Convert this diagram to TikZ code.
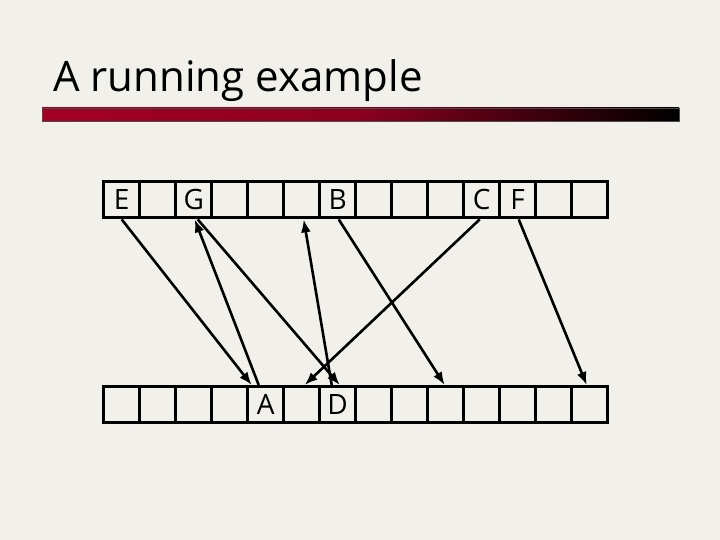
\documentclass[tikz,border=0pt]{standalone}
\usepackage{fontspec}
\setmainfont{Open Sans}
\usetikzlibrary{arrows.meta}
\definecolor{bg}{RGB}{242,240,234}
\definecolor{barred}{RGB}{165,0,35}
\definecolor{barmid}{RGB}{140,0,30}
\begin{document}
\begin{tikzpicture}[x=1pt,y=-1pt,
  cell/.style={draw, line width=3.4pt, minimum width=36pt, minimum height=36pt, inner sep=0pt, anchor=north west, font=\fontsize{28}{28}\selectfont},
  arr/.style={line width=2.6pt, -{Latex[length=13pt,width=10pt]}}]
\fill[bg] (0,0) rectangle (720,540);
\useasboundingbox (0,0) rectangle (720,540);
\node[anchor=base west, inner sep=0pt, font=\fontsize{42}{42}\selectfont] (title) at (53,92) {A running example};
\shade[left color=barred, right color=black, middle color=barmid] (42,108) rectangle (679,121);
\draw[line width=0.6pt, black!70] (42,108) rectangle (679,121);
\foreach \i/\l in {0/E,1/,2/G,3/,4/,5/,6/B,7/,8/,9/,10/C,11/F,12/,13/}
  \node[cell] (t\i) at (102+36*\i,180) {\l};
\foreach \i/\l in {0/,1/,2/,3/,4/A,5/,6/D,7/,8/,9/,10/,11/,12/,13/}
  \node[cell] (b\i) at (102+36*\i,385) {\l};
\draw[arr] (t0.south) -- ([xshift=-14pt]b4.north);
\draw[arr] ([xshift=-7pt]b4.north) -- ([xshift=1pt]t2.south);
\draw[arr] ([xshift=4pt]t2.south) -- ([xshift=2pt]b6.north);
\draw[arr] ([xshift=-6pt]b6.north) -- ([xshift=2pt]t5.south);
\draw[arr] ([xshift=1pt]t6.south) -- ([xshift=-1pt]b9.north);
\draw[arr] ([xshift=-2pt]t10.south) -- ([xshift=3pt]b5.north);
\draw[arr] ([xshift=1pt]t11.south) -- ([xshift=-3pt]b13.north);
\end{tikzpicture}
\end{document}
